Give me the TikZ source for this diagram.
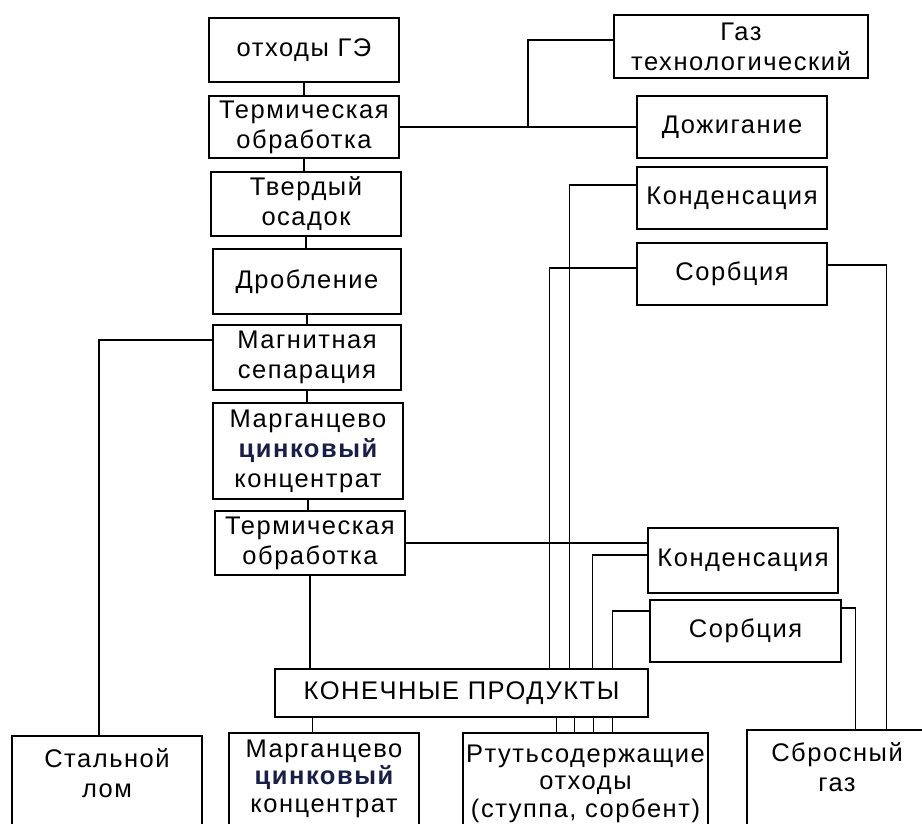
\documentclass[tikz,border=0pt]{standalone}
\usepackage{fontspec}
\setmainfont{Liberation Sans}[LetterSpace=6]
\definecolor{cinkblue}{RGB}{25,30,70}
\newcommand{\cink}[1]{{\bfseries\color{cinkblue}#1}}
\tikzset{box/.style = {
  % Rectangle:
  rectangle,
  draw=black, line width=1.5pt,
  inner sep=2pt,
  % Text
  align=center,
  font=\fontsize{25.5}{30}\selectfont
  }}
\tikzset{stage/.style = {
  box,
  minimum width=190pt,
  minimum height=64pt
  }}
\tikzset{endbox/.style = {
  % Rectangle, open at the bottom of the page:
  box,
  anchor=north,
  inner ysep=13pt,
  text depth=85pt
  }}
\tikzset{tight/.style = {
  font=\fontsize{25.5}{27.5}\selectfont
  }}
\tikzset{link/.style = {
  draw=black,
  line width=1.5pt
  }}

\begin{document}
\begin{tikzpicture}[x=1pt, y=-1pt]
\useasboundingbox [fill=white] (0,0) rectangle (922,824);
\clip (0,0) rectangle (922,824);

% NODES
\node (othody) [stage] at (304,50) {отходы ГЭ};
\node (term1) [stage, minimum height=62pt] at (304,127) {Термическая\\обработка};
\node (tverd) [stage] at (306,204) {Твердый\\осадок};
\node (drob) [stage, minimum width=188pt, minimum height=65pt] at (307,281.5) {Дробление};
\node (magn) [stage, minimum width=188pt, minimum height=65pt] at (307,357.5) {Магнитная\\сепарация};
\node (marg1) [stage, minimum height=96pt] at (308,451) {Марганцево\\\cink{цинковый}\\концентрат};
\node (term2) [stage] at (310,543) {Термическая\\обработка};

\node (gaz) [stage, minimum width=254pt, minimum height=63pt] at (741,46.5) {Газ\\технологический};
\node (dozh) [stage, minimum height=62pt] at (732,127) {Дожигание};
\node (kond1) [stage, minimum height=62pt] at (732,198) {Конденсация};
\node (sorb1) [stage, minimum height=62pt] at (732,274) {Сорбция};
\node (kond2) [stage, minimum height=65pt] at (743,560.5) {Конденсация};
\node (sorb2) [stage, minimum width=191pt, minimum height=62pt] at (745.5,631) {Сорбция};

\node (konech) [box, minimum width=373pt, minimum height=48pt] at (461.5,693) {КОНЕЧНЫЕ ПРОДУКТЫ};

\node (stal) [endbox, minimum width=190pt] at (107,735) {Стальной\\лом};
\node (marg2) [endbox, tight, inner ysep=7pt, minimum width=190pt] at (324,732) {Марганцево\\\cink{цинковый}\\концентрат};
\node (rtut) [endbox, tight, inner ysep=12pt, minimum width=245pt] at (585.5,732) {Ртутьсодержащие\\отходы\\(ступпа, сорбент)};
\node (sbros) [endbox, minimum width=180pt] at (837,729) {Сбросный\\газ};

\coordinate (jgaz) at (528,127);

% lines
\draw [link] (othody) -- (term1);
\draw [link] (term1.south) -- (term1.south |- tverd.north);
\draw [link] (tverd.south) -- (tverd.south |- drob.north);
\draw [link] (drob.south) -- (drob.south |- magn.north);
\draw [link] (magn.south) -- (magn.south |- marg1.north);
\draw [link] (marg1.south) -- (marg1.south |- term2.north);

\draw [link] (term1.east) -- (dozh.west);
\draw [link] (jgaz) |- ([yshift=6.5pt]gaz.west);

\draw [link] ([yshift=13pt]kond1.west) -| ([xshift=295pt]konech.north west);
\draw [link] ([yshift=6pt]sorb1.west) -| ([xshift=275pt]konech.north west);
\draw [link] ([yshift=9pt]sorb1.east) -| ([xshift=140pt]sbros.north west);

\draw [link] (term2.east) -- (term2.east -| kond2.west);
\draw [link] ([yshift=5.5pt]kond2.west) -| ([xshift=318pt]konech.north west);
\draw [link] ([yshift=20pt]sorb2.west) -| ([xshift=338pt]konech.north west);
\draw [link] ([yshift=23pt]sorb2.east) -| ([xshift=109pt]sbros.north west);

\draw [link] (term2.south) -- (term2.south |- konech.north);
\draw [link] ([xshift=38pt]konech.south west) -- ([xshift=38pt]konech.south west |- marg2.north);
\foreach \dx in {282,300,319,338}
  \draw [link] ([xshift=\dx pt]konech.south west) -- ([xshift=\dx pt]konech.south west |- rtut.north);

\draw [link] ([yshift=17.5pt]magn.west) -| ([xshift=-8pt]stal.north);
\end{tikzpicture}
\end{document}
